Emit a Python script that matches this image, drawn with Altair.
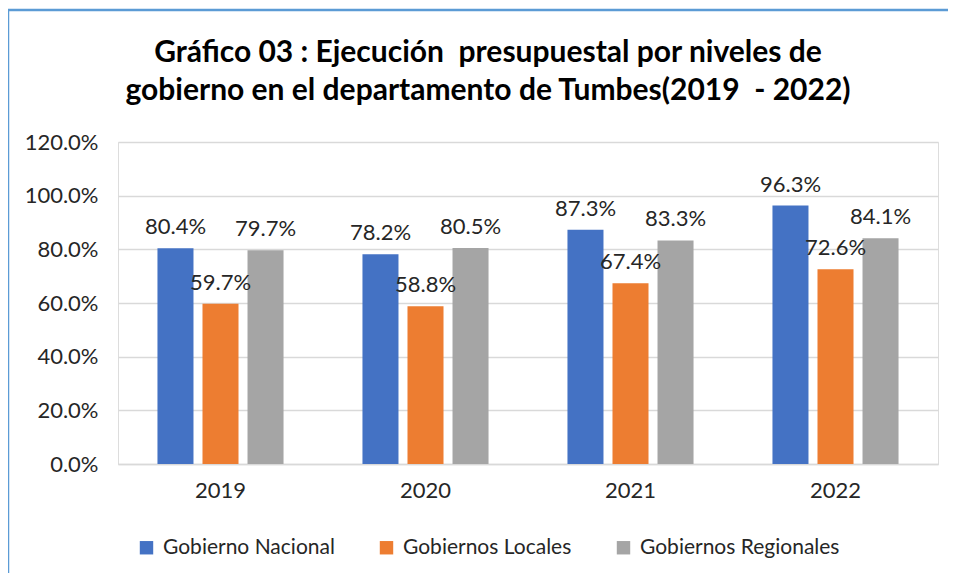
import altair as alt
import pandas as pd

years = ["2019", "2020", "2021", "2022"]
series = ["Gobierno Nacional", "Gobiernos Locales", "Gobiernos Regionales"]
nacional = [0.804, 0.782, 0.873, 0.963]
locales = [0.597, 0.588, 0.674, 0.726]
regionales = [0.797, 0.805, 0.833, 0.841]
colors = ["#4472C4", "#ED7D31", "#A5A5A5"]
title_lines = ["Gráfico 03 : Ejecución\u00a0 presupuestal por niveles de",
               "gobierno en el departamento de Tumbes(2019\u00a0 - 2022)"]

rows = []
for vals, s in zip([nacional, locales, regionales], series):
    for y, v in zip(years, vals):
        rows.append({"year": y, "serie": s, "value": v})
df = pd.DataFrame(rows)

FONT = "Lato"
TXT = "#262626"
FS = 22

x = alt.X("year:N", title=None, sort=years,
          scale=alt.Scale(paddingInner=0.385, paddingOuter=0.1925),
          axis=alt.Axis(labelAngle=0, labelFontSize=FS, labelFont=FONT, labelColor=TXT,
                        labelPadding=16, ticks=False, domain=True, domainColor="#D9D9D9",
                        domainWidth=1.5, grid=False))
y = alt.Y("value:Q", title=None,
          scale=alt.Scale(domain=[0, 1.2], nice=False),
          axis=alt.Axis(format=".1%", values=[0, 0.2, 0.4, 0.6, 0.8, 1.0, 1.2],
                        labelFontSize=FS, labelFont=FONT, labelColor=TXT, labelPadding=20,
                        ticks=False, domain=False, gridColor="#D9D9D9", gridWidth=1.5))
xo = alt.XOffset("serie:N", sort=series, scale=alt.Scale(paddingInner=0.2, paddingOuter=0))

base = alt.Chart(df)

bars = base.mark_bar().encode(
    x=x, y=y, xOffset=xo,
    color=alt.Color("serie:N", sort=series, title=None,
                    scale=alt.Scale(domain=series, range=colors),
                    legend=alt.Legend(orient="none", legendX=18, legendY=395, direction="horizontal",
                                      symbolType="square", symbolSize=180, symbolStrokeWidth=0,
                                      labelFontSize=21, labelFont=FONT, labelColor=TXT,
                                      labelLimit=400, columnPadding=41, labelOffset=6)),
)

labels = base.mark_text(baseline="bottom", dy=-9, fontSize=FS, font=FONT, color=TXT).encode(
    x=x, y=y, xOffset=xo,
    text=alt.Text("value:Q", format=".1%"),
)

border = alt.Chart(pd.DataFrame({"a": [0]})).mark_rect(
    filled=False, stroke="#5B9BD5", strokeWidth=2.5
).encode(
    x=alt.value(-110), x2=alt.value(900), y=alt.value(-132), y2=alt.value(600)
)

t1 = alt.Chart(pd.DataFrame({"a": [0]})).mark_text(
    fontSize=30, font=FONT, fontWeight="bold", color="#000000", baseline="alphabetic", align="center"
).encode(x=alt.value(370), y=alt.value(-80), text=alt.value(title_lines[0]))
t2 = alt.Chart(pd.DataFrame({"a": [0]})).mark_text(
    fontSize=30, font=FONT, fontWeight="bold", color="#000000", baseline="alphabetic", align="center"
).encode(x=alt.value(370), y=alt.value(-42), text=alt.value(title_lines[1]))

chart = alt.layer(border, t1, t2, bars, labels).properties(
    width=820, height=322,
    autosize=alt.AutoSizeParams(type="none"),
    padding={"left": 110, "top": 134, "right": 10, "bottom": 109},
).configure_view(strokeWidth=0).configure(background="white")

chart.save("out.html", embed_options={"renderer": "svg", "actions": False})
